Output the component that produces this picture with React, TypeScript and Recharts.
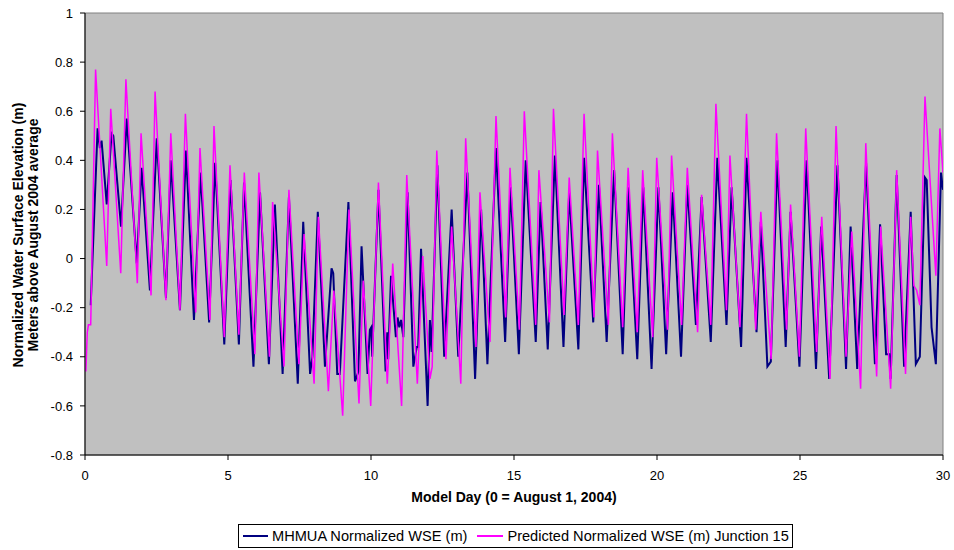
import React from "react";
import { LineChart, Line, XAxis, YAxis, CartesianGrid, Legend, ReferenceArea } from "recharts";

// Tide extremes (model day, metres)
const mhmuaDays = [
  0.2, 0.44, 0.52, 0.58, 0.76, 0.93, 0.99, 1.26, 1.46, 1.81, 1.98, 2.27, 2.51, 2.83, 3.0, 3.32, 3.53, 3.81, 4.04, 4.34,
  4.55, 4.87, 5.09, 5.38, 5.56, 5.89, 6.12, 6.43, 6.64, 6.91, 7.13, 7.44, 7.63, 7.87, 7.95, 8.14, 8.39, 8.62, 8.68, 8.82,
  8.91, 9.21, 9.44, 9.56, 9.67, 9.88, 9.96, 10.01, 10.04, 10.26, 10.51, 10.57, 10.6, 10.7, 10.87, 10.93, 10.99, 11.05, 11.13, 11.28,
  11.48, 11.6, 11.65, 11.75, 11.98, 12.06, 12.12, 12.32, 12.56, 12.82, 13.05, 13.37, 13.64, 13.85, 14.07, 14.37, 14.69, 14.88, 15.17, 15.41,
  15.76, 15.93, 16.18, 16.43, 16.73, 16.93, 17.25, 17.45, 17.77, 17.97, 18.24, 18.5, 18.8, 18.99, 19.31, 19.52, 19.81, 20.05, 20.32, 20.55,
  20.84, 21.06, 21.36, 21.56, 21.88, 22.11, 22.43, 22.61, 22.94, 23.13, 23.48, 23.63, 23.86, 23.98, 24.21, 24.5, 24.67, 24.98, 25.23, 25.56,
  25.74, 26.02, 26.31, 26.61, 26.77, 27.0, 27.31, 27.62, 27.8, 28.01, 28.12, 28.17, 28.38, 28.64, 28.87, 29.05, 29.19, 29.37, 29.43, 29.6,
  29.75, 29.93, 30.0,
];
const mhmuaWse = [
  -0.19, 0.53, 0.45, 0.48, 0.22, 0.51, 0.5, 0.13, 0.57, -0.02, 0.37, -0.13, 0.49, -0.16, 0.4, -0.21, 0.44, -0.25, 0.35, -0.26,
  0.39, -0.35, 0.32, -0.35, 0.31, -0.44, 0.27, -0.43, 0.22, -0.47, 0.25, -0.51, 0.15, -0.47, -0.4, 0.19, -0.44, -0.04, -0.06, -0.47,
  -0.47, 0.23, -0.5, -0.46, 0.05, -0.47, -0.29, -0.28, -0.4, 0.28, -0.46, -0.3, -0.41, -0.07, -0.32, -0.24, -0.28, -0.25, -0.32, 0.27,
  -0.44, -0.36, -0.36, 0.04, -0.6, -0.25, -0.38, 0.38, -0.4, 0.2, -0.4, 0.35, -0.49, 0.2, -0.43, 0.45, -0.34, 0.29, -0.39, 0.4,
  -0.34, 0.23, -0.37, 0.42, -0.36, 0.27, -0.37, 0.41, -0.26, 0.3, -0.34, 0.36, -0.39, 0.29, -0.41, 0.29, -0.45, 0.29, -0.39, 0.27,
  -0.4, 0.3, -0.27, 0.25, -0.34, 0.41, -0.27, 0.29, -0.36, 0.41, -0.3, 0.15, -0.44, -0.42, 0.4, -0.36, 0.19, -0.44, 0.4, -0.45,
  0.13, -0.49, 0.38, -0.45, 0.13, -0.45, 0.39, -0.43, 0.14, -0.39, -0.39, -0.49, 0.34, -0.44, 0.19, -0.43, -0.4, 0.33, 0.32, -0.28,
  -0.43, 0.35, 0.28,
];

const predDays = [
  0.03, 0.08, 0.12, 0.2, 0.37, 0.76, 0.9, 1.25, 1.43, 1.83, 1.96, 2.31, 2.45, 2.83, 3.0, 3.32, 3.51, 3.87, 4.02, 4.37,
  4.51, 4.87, 5.07, 5.38, 5.57, 5.94, 6.08, 6.45, 6.56, 6.96, 7.13, 7.48, 7.66, 8.01, 8.16, 8.51, 8.7, 9.01, 9.23, 9.58,
  9.73, 9.99, 10.26, 10.57, 10.76, 11.07, 11.25, 11.62, 11.81, 12.06, 12.14, 12.3, 12.62, 12.82, 13.14, 13.31, 13.67, 13.81, 14.16, 14.37,
  14.71, 14.86, 15.19, 15.36, 15.76, 15.87, 16.24, 16.38, 16.75, 16.93, 17.25, 17.45, 17.8, 17.92, 18.3, 18.44, 18.8, 18.99, 19.31, 19.5,
  19.85, 19.99, 20.37, 20.51, 20.86, 21.06, 21.42, 21.56, 21.88, 22.06, 22.43, 22.55, 22.9, 23.13, 23.45, 23.63, 23.99, 24.18, 24.53, 24.67,
  24.98, 25.2, 25.58, 25.76, 26.05, 26.26, 26.61, 26.81, 27.12, 27.3, 27.68, 27.82, 28.17, 28.38, 28.69, 28.87, 28.98, 29.08, 29.19, 29.37,
  29.75, 29.89, 30.0,
];
const predWse = [
  -0.46, -0.3, -0.27, -0.27, 0.77, -0.03, 0.61, -0.06, 0.73, -0.1, 0.51, -0.15, 0.68, -0.17, 0.51, -0.21, 0.59, -0.22, 0.45, -0.25,
  0.54, -0.32, 0.38, -0.31, 0.35, -0.39, 0.35, -0.4, 0.23, -0.44, 0.28, -0.43, 0.1, -0.51, 0.17, -0.54, -0.13, -0.64, 0.2, -0.59,
  -0.09, -0.6, 0.31, -0.51, -0.02, -0.6, 0.34, -0.51, 0.01, -0.49, -0.44, 0.44, -0.41, 0.13, -0.51, 0.49, -0.36, 0.27, -0.34, 0.58,
  -0.24, 0.37, -0.29, 0.6, -0.27, 0.36, -0.26, 0.61, -0.23, 0.33, -0.27, 0.59, -0.24, 0.44, -0.27, 0.51, -0.28, 0.37, -0.3, 0.36,
  -0.32, 0.41, -0.29, 0.42, -0.27, 0.37, -0.3, 0.26, -0.27, 0.63, -0.21, 0.42, -0.28, 0.59, -0.29, 0.19, -0.41, 0.51, -0.29, 0.22,
  -0.4, 0.53, -0.38, 0.17, -0.49, 0.54, -0.4, 0.11, -0.53, 0.47, -0.48, 0.13, -0.53, 0.36, -0.47, 0.17, -0.11, -0.13, -0.19, 0.66,
  -0.07, 0.53, 0.35,
];

const xTicks = [0, 5, 10, 15, 20, 25, 30];
const yTicks = [-0.8, -0.6, -0.4, -0.2, 0, 0.2, 0.4, 0.6, 0.8, 1];
const gridLines = [-0.6, -0.4, -0.2, 0, 0.2, 0.4, 0.6, 0.8];

const mhmua = mhmuaDays.map((day, i) => ({ day, wse: mhmuaWse[i] }));
const predicted = predDays.map((day, i) => ({ day, wse: predWse[i] }));

const font = "'Liberation Sans', Arial, sans-serif";

const YTitle = ({ viewBox }: any) => {
  const cy = viewBox.y + viewBox.height / 2 + 1;
  return (
    <g fontFamily={font} fontSize={14} fontWeight="bold" fill="#000" textAnchor="middle">
      <text x={23} y={cy} transform={`rotate(-90, 23, ${cy})`}>Normalized Water Surface Elevation (m)</text>
      <text x={38} y={cy} transform={`rotate(-90, 38, ${cy})`}>Meters above August 2004 average</text>
    </g>
  );
};

const XTitle = ({ viewBox }: any) => (
  <text x={viewBox.x + viewBox.width / 2} y={viewBox.y + 47} textAnchor="middle" fontFamily={font} fontSize={14} fontWeight="bold" fill="#000">
    Model Day (0 = August 1, 2004)
  </text>
);

const LegendBox = () => (
  <div style={{ display: "flex", alignItems: "center", border: "1px solid #000", background: "#fff", height: 24, fontFamily: font, fontSize: 14.6, boxSizing: "border-box", padding: "0 0 0 4px", whiteSpace: "nowrap" }}>
    <span style={{ display: "inline-block", width: 25, borderTop: "2px solid #000080", marginRight: 4 }} />
    <span style={{ marginRight: 10 }}>MHMUA Normalized WSE (m)</span>
    <span style={{ display: "inline-block", width: 26, borderTop: "2px solid #ff00ff", marginRight: 4 }} />
    <span>Predicted Normalized WSE (m) Junction 15</span>
  </div>
);

export default function App() {
  return (
    <div style={{ position: "absolute", left: 0, top: 0, background: "#fff" }}>
      <LineChart width={954} height={550} margin={{ top: 13, right: 11, left: 0, bottom: 45 }}>
        <ReferenceArea x1={0} x2={30} y1={-0.8} y2={1} fill="#c0c0c0" fillOpacity={1} stroke="#808080" strokeWidth={1} />
        <CartesianGrid horizontalValues={gridLines} vertical={false} stroke="#000" strokeWidth={1} />
        <XAxis
          dataKey="day"
          type="number"
          domain={[0, 30]}
          ticks={xTicks}
          allowDataOverflow
          height={50}
          tickSize={5}
          tickMargin={11}
          stroke="#000"
          tick={{ fill: "#000", fontSize: 13, fontFamily: font }}
          label={<XTitle />}
        />
        <YAxis
          type="number"
          domain={[-0.8, 1]}
          ticks={yTicks}
          allowDataOverflow
          width={85}
          tickSize={5}
          tickMargin={7}
          stroke="#000"
          tick={{ fill: "#000", fontSize: 13, fontFamily: font }}
          label={<YTitle />}
        />
        <Legend
          layout="horizontal"
          align="center"
          verticalAlign="middle"
          content={<LegendBox />}
          wrapperStyle={{ top: 524, left: 238, width: 555, height: 24 }}
        />
        <Line data={mhmua} dataKey="wse" name="MHMUA Normalized WSE (m)" type="linear" stroke="#000080" strokeWidth={2} dot={false} activeDot={false} isAnimationActive={false} />
        <Line data={predicted} dataKey="wse" name="Predicted Normalized WSE (m) Junction 15" type="linear" stroke="#ff00ff" strokeWidth={1.5} dot={false} activeDot={false} isAnimationActive={false} />
      </LineChart>
    </div>
  );
}
